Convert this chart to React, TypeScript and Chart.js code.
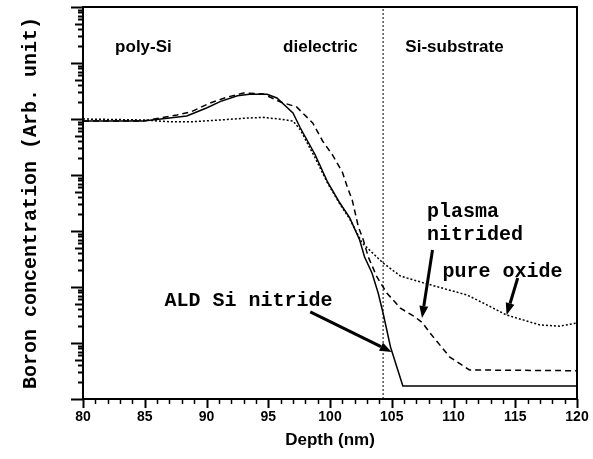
import React, { useEffect, useRef } from 'react';
import { Chart, registerables } from 'chart.js';

Chart.register(...registerables);

// ---- data (depth in nm, boron concentration in arb. units, log axis) ----
const depthAld = [80, 84.9, 87.0, 88.4, 90.0, 91.1, 92.5, 93.5, 94.9, 95.7, 97.0, 97.6, 98.8, 99.8, 100.8, 101.6, 102.4, 102.8, 103.4, 103.9, 104.3, 104.9, 105.9, 120];
const boronAld = [9.2e4, 9.2e4, 1.04e5, 1.13e5, 1.57e5, 2.04e5, 2.61e5, 2.76e5, 2.76e5, 2.37e5, 1.28e5, 6.9e4, 2.3e4, 7.5e3, 3.16e3, 1.71e3, 690, 344, 178, 78, 34, 8.5, 1.7, 1.7];

const depthPlasma = [80, 84.9, 87.6, 88.7, 90.3, 91.7, 93.0, 94.6, 96.0, 97.3, 98.6, 99.4, 100.2, 101.0, 101.4, 101.8, 102.3, 102.7, 103.1, 103.8, 104.6, 105.7, 106.9, 107.5, 108.1, 108.7, 109.7, 111.3, 120];
const boronPlasma = [9.2e4, 9.2e4, 1.18e5, 1.33e5, 1.93e5, 2.47e5, 2.91e5, 2.79e5, 2.01e5, 1.64e5, 8.5e4, 4.05e4, 2.28e4, 1.13e4, 6.1e3, 3.58e3, 1.18e3, 690, 344, 151, 78, 42, 29, 22.8, 15.1, 10.4, 5.6, 3.3, 3.2];

const depthOxide = [80, 84.9, 87.0, 88.9, 91.1, 93.3, 94.6, 96.0, 97.0, 97.6, 98.8, 99.8, 100.8, 101.6, 102.6, 104.3, 105.7, 107.9, 111.1, 112.7, 114.3, 117.0, 118.6, 120];
const boronOxide = [1.0e5, 9.6e4, 8.95e4, 8.95e4, 9.6e4, 1.04e5, 1.07e5, 9.9e4, 9.2e4, 6.4e4, 2.01e4, 7.2e3, 3.03e3, 1.64e3, 611, 268, 157, 113, 72, 48, 31.6, 21, 20, 22.8];

const interfaceDepth = 104.3;

const xMin = 80;
const xMax = 120;
const xLabelStep = 5;
const yMin = 1;
const yMax = 1e7;

const regionLabels = ['poly-Si', 'dielectric', 'Si-substrate'];
const regionX = [82.6, 96.2, 106.1];
const regionY = [1.93e6, 1.93e6, 1.93e6];

const noteLabels = ['ALD Si nitride', 'plasma', 'nitrided', 'pure oxide'];
const noteX = [86.6, 107.85, 107.85, 109.1];
const noteY = [56, 2180, 850, 185];

const arrowFromX = [98.4, 108.3, 115.2];
const arrowFromY = [36, 458, 145];
const arrowToX = [105.0, 107.45, 114.3];
const arrowToY = [6.9, 28, 31.6];

const monoFont = '"Liberation Mono", "DejaVu Sans Mono", monospace';
const sansFont = '"Liberation Sans", Arial, sans-serif';
const narrowFont = '"Liberation Sans Narrow", "Arial Narrow", "Liberation Sans", sans-serif';

const toPoints = (xs: number[], ys: number[]) => xs.map((x, i) => ({ x, y: ys[i] }));

const decorPlugin = {
  id: 'decor',
  afterDatasetsDraw(chart: any) {
    const { ctx, chartArea, scales } = chart;
    const xs = scales.x;
    const ys = scales.y;
    const { left, right, top, bottom } = chartArea;
    ctx.save();
    ctx.strokeStyle = '#000';
    ctx.fillStyle = '#000';

    // frame
    ctx.lineWidth = 2;
    ctx.strokeRect(left, top, right - left, bottom - top);

    // x ticks
    for (let v = xMin; v <= xMax; v += 1) {
      const px = Math.round(xs.getPixelForValue(v)) + 0.5;
      const major = v % xLabelStep === 0;
      ctx.lineWidth = major ? 2 : 1.5;
      ctx.beginPath();
      ctx.moveTo(px, bottom);
      ctx.lineTo(px, bottom + (major ? 9 : 5));
      ctx.stroke();
    }

    // y ticks (log)
    for (let e = 0; e <= 7; e++) {
      const base = Math.pow(10, e);
      for (let k = 1; k <= 9; k++) {
        if (e === 7 && k > 1) break;
        const py = Math.round(ys.getPixelForValue(k * base)) + 0.5;
        const len = k === 1 ? 12 : k === 5 ? 8 : 5;
        ctx.lineWidth = 2;
        ctx.beginPath();
        ctx.moveTo(left, py);
        ctx.lineTo(left - len, py);
        ctx.stroke();
      }
    }

    // region labels
    ctx.font = `bold 17px ${sansFont}`;
    ctx.textBaseline = 'middle';
    ctx.textAlign = 'left';
    regionLabels.forEach((t, i) => {
      ctx.fillText(t, xs.getPixelForValue(regionX[i]), ys.getPixelForValue(regionY[i]));
    });

    // notes
    ctx.font = `bold 20px ${monoFont}`;
    noteLabels.forEach((t, i) => {
      ctx.fillText(t, xs.getPixelForValue(noteX[i]), ys.getPixelForValue(noteY[i]));
    });

    // arrows
    arrowFromX.forEach((fx, i) => {
      const x0 = xs.getPixelForValue(fx);
      const y0 = ys.getPixelForValue(arrowFromY[i]);
      const x1 = xs.getPixelForValue(arrowToX[i]);
      const y1 = ys.getPixelForValue(arrowToY[i]);
      const ang = Math.atan2(y1 - y0, x1 - x0);
      const headLen = 12;
      const headW = 4.5;
      const bx = x1 - headLen * Math.cos(ang);
      const by = y1 - headLen * Math.sin(ang);
      ctx.lineWidth = 3;
      ctx.beginPath();
      ctx.moveTo(x0, y0);
      ctx.lineTo(bx, by);
      ctx.stroke();
      ctx.beginPath();
      ctx.moveTo(x1, y1);
      ctx.lineTo(bx + headW * Math.sin(ang), by - headW * Math.cos(ang));
      ctx.lineTo(bx - headW * Math.sin(ang), by + headW * Math.cos(ang));
      ctx.closePath();
      ctx.fill();
    });
    ctx.restore();
  },
};

export default function App() {
  const ref = useRef<HTMLCanvasElement | null>(null);
  useEffect(() => {
    document.body.style.margin = '0';
    const canvas = ref.current;
    if (!canvas) return;
    const chart = new Chart(canvas, {
      type: 'line',
      data: {
        datasets: [
          {
            label: 'ALD Si nitride',
            data: toPoints(depthAld, boronAld),
            borderColor: '#000',
            borderWidth: 1.5,
            pointRadius: 0,
            fill: false,
          },
          {
            label: 'plasma nitrided',
            data: toPoints(depthPlasma, boronPlasma),
            borderColor: '#000',
            borderWidth: 1.5,
            borderDash: [6, 4],
            pointRadius: 0,
            fill: false,
          },
          {
            label: 'pure oxide',
            data: toPoints(depthOxide, boronOxide),
            borderColor: '#000',
            borderWidth: 1.5,
            borderDash: [2, 2],
            pointRadius: 0,
            fill: false,
          },
          {
            label: 'interface',
            data: [
              { x: interfaceDepth, y: yMin },
              { x: interfaceDepth, y: yMax },
            ],
            borderColor: '#000',
            borderWidth: 1,
            borderDash: [2, 2],
            pointRadius: 0,
            fill: false,
          },
        ],
      },
      options: {
        animation: false,
        responsive: false,
        devicePixelRatio: 1,
        layout: { padding: { top: 7, right: 16, left: 0, bottom: 0 } },
        plugins: { legend: { display: false }, tooltip: { enabled: false } },
        scales: {
          x: {
            type: 'linear',
            min: xMin,
            max: xMax,
            grid: { display: true, drawOnChartArea: false, drawTicks: true, tickLength: 8, color: 'rgba(0,0,0,0)' },
            border: { display: false },
            ticks: {
              stepSize: 1,
              autoSkip: false,
              maxRotation: 0,
              padding: 2,
              color: '#000',
              font: { family: narrowFont, size: 14, weight: 'bold' },
              callback: (v: any) => (Number(v) % xLabelStep === 0 ? String(v) : ''),
            },
            title: {
              display: true,
              text: 'Depth (nm)',
              color: '#000',
              font: { family: sansFont, size: 17, weight: 'bold' },
              padding: { top: 0, bottom: 8 },
            },
            afterFit: (s: any) => {
              s.height = 60;
            },
          },
          y: {
            type: 'logarithmic',
            min: yMin,
            max: yMax,
            grid: { display: false },
            border: { display: false },
            ticks: { display: false },
            title: {
              display: true,
              text: 'Boron concentration (Arb. unit)',
              color: '#000',
              font: { family: monoFont, size: 20, weight: 'bold' },
              padding: { top: 19, bottom: 0 },
            },
            afterFit: (s: any) => {
              s.width = 83;
            },
          },
        },
      } as any,
      plugins: [decorPlugin],
    });
    return () => chart.destroy();
  }, []);
  return (
    <div style={{ width: 593, height: 459 }}>
      <canvas ref={ref} width={593} height={459} style={{ display: 'block' }} />
    </div>
  );
}
